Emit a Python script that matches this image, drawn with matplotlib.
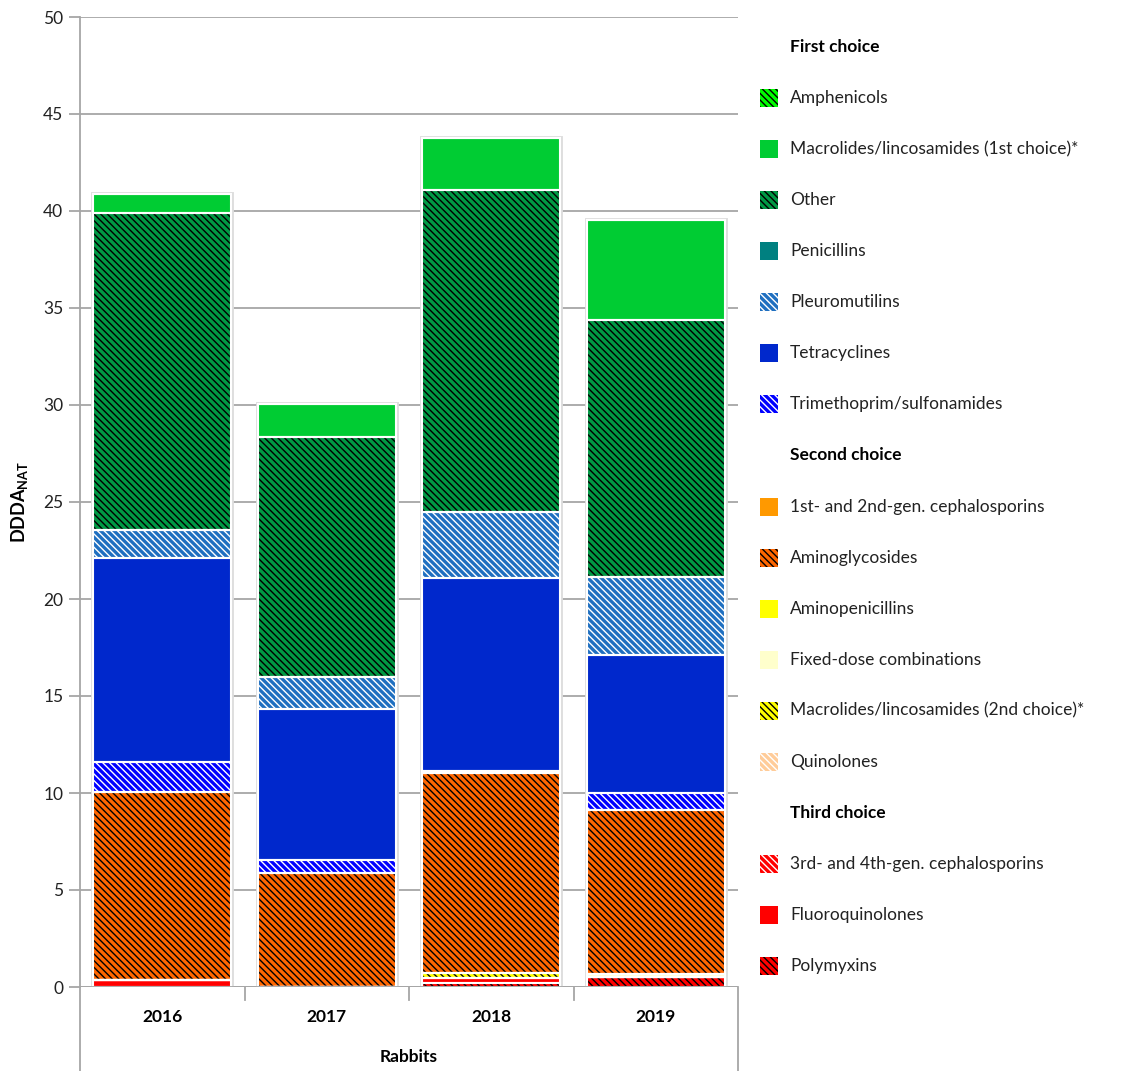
import matplotlib.pyplot as plt
from matplotlib.patches import Rectangle
from matplotlib.lines import Line2D

plt.rcParams['font.family'] = ['Lato', 'DejaVu Sans']
plt.rcParams['mathtext.fontset'] = 'custom'
plt.rcParams['mathtext.rm'] = 'Lato'
plt.rcParams['mathtext.bf'] = 'Lato:bold'
plt.rcParams['hatch.linewidth'] = 1.0

years = ["2016", "2017", "2018", "2019"]

# stacking order, bottom to top
polymyxins = [0, 0, 0.2, 0.5]
fluoroquinolones = [0.35, 0, 0.25, 0]
cephalosporins_34 = [0, 0, 0, 0]
quinolones = [0, 0, 0, 0]
macrolides_2nd = [0, 0, 0.25, 0]
fixed_dose = [0, 0, 0, 0.15]
aminopenicillins = [0, 0, 0, 0]
aminoglycosides = [9.7, 5.88, 10.33, 8.47]
cephalosporins_12 = [0, 0, 0, 0]
trimethoprim = [1.55, 0.67, 0.12, 0.88]
tetracyclines = [10.5, 7.78, 9.93, 7.11]
pleuromutilins = [1.45, 1.65, 3.4, 4.02]
penicillins = [0, 0, 0, 0]
other = [16.35, 12.37, 16.6, 13.25]
macrolides_1st = [1.0, 1.7, 2.68, 5.16]
amphenicols = [0, 0, 0, 0]

hatch = "\\" * 5

# (values, label, face colour, hatch, hatch colour)
series = [
    (polymyxins, "Polymyxins", "#FF0000", hatch, "#000000"),
    (fluoroquinolones, "Fluoroquinolones", "#FF0000", None, None),
    (cephalosporins_34, "3rd- and 4th-gen. cephalosporins", "#FF0000", hatch, "#FFFFFF"),
    (quinolones, "Quinolones", "#FFCC99", hatch, "#FFFFFF"),
    (macrolides_2nd, "Macrolides/lincosamides (2nd choice)*", "#FFFF00", hatch, "#000000"),
    (fixed_dose, "Fixed-dose combinations", "#FFFFCC", None, None),
    (aminopenicillins, "Aminopenicillins", "#FFFF00", None, None),
    (aminoglycosides, "Aminoglycosides", "#FF6600", hatch, "#000000"),
    (cephalosporins_12, "1st- and 2nd-gen. cephalosporins", "#FF9900", None, None),
    (trimethoprim, "Trimethoprim/sulfonamides", "#0000FF", hatch, "#FFFFFF"),
    (tetracyclines, "Tetracyclines", "#0028CC", None, None),
    (pleuromutilins, "Pleuromutilins", "#1F6FC0", hatch, "#FFFFFF"),
    (penicillins, "Penicillins", "#008080", None, None),
    (other, "Other", "#009944", hatch, "#000000"),
    (macrolides_1st, "Macrolides/lincosamides (1st choice)*", "#00CC33", None, None),
    (amphenicols, "Amphenicols", "#00FF00", hatch, "#000000"),
]

legend_groups = [
    ("First choice", ["Amphenicols", "Macrolides/lincosamides (1st choice)*", "Other",
                      "Penicillins", "Pleuromutilins", "Tetracyclines",
                      "Trimethoprim/sulfonamides"]),
    ("Second choice", ["1st- and 2nd-gen. cephalosporins", "Aminoglycosides",
                       "Aminopenicillins", "Fixed-dose combinations",
                       "Macrolides/lincosamides (2nd choice)*", "Quinolones"]),
    ("Third choice", ["3rd- and 4th-gen. cephalosporins", "Fluoroquinolones", "Polymyxins"]),
]

W, H = 1147, 1071
fig = plt.figure(figsize=(W / 100, H / 100), dpi=100)
ax = fig.add_axes([80 / W, 84 / H, 658 / W, 970 / H])

grid_color = "#A6A6A6"
x = list(range(len(years)))
width = 0.84

totals = [sum(s[0][i] for s in series) for i in x]
ax.bar(x, totals, width=width, color="none", edgecolor="#DDDDDD", linewidth=3.5, zorder=2)

bottoms = [0.0] * len(years)
for vals, label, face, htch, hcolor in series:
    if htch:
        ax.bar(x, vals, width=width, bottom=bottoms, color=face, edgecolor=hcolor,
               hatch=htch, linewidth=0, zorder=3)
    else:
        ax.bar(x, vals, width=width, bottom=bottoms, color=face, linewidth=0, zorder=3)
    ax.bar(x, vals, width=width, bottom=bottoms, fill=False, edgecolor="white",
           linewidth=1.5, zorder=4)
    bottoms = [b + v for b, v in zip(bottoms, vals)]

ax.set_xlim(-0.5, 3.5)
ax.set_ylim(0, 50)
ax.set_yticks(range(0, 51, 5))
ax.yaxis.grid(True, color=grid_color, linewidth=1.3)
ax.set_axisbelow(True)
for side in ["top", "right", "bottom"]:
    ax.spines[side].set_visible(False)
ax.spines["left"].set_color(grid_color)
ax.spines["left"].set_linewidth(1.3)
ax.tick_params(axis="y", length=8, width=1.3, color=grid_color, labelsize=12.5,
               labelcolor="#222222", pad=4)
ax.tick_params(axis="x", length=0, labelsize=12.5, pad=16)
ax.set_xticks(x)
ax.set_xticklabels(years, fontweight="bold")
ax.axhline(0, color=grid_color, linewidth=1.3, zorder=5)

# category separators and group box below the axis
for xb in [-0.5, 0.5, 1.5, 2.5, 3.5]:
    bottom_px = 1071 if xb in (-0.5, 3.5) else 1000
    ax.add_line(Line2D([xb, xb], [0, -(bottom_px - 987) / 19.4], color=grid_color,
                       linewidth=1.3, clip_on=False))

fig.text(409 / W, 1 - 1057 / H, "Rabbits", ha="center", va="center",
         fontsize=12.5, fontweight="bold")
fig.text(20 / W, 1 - 502 / H, r"$\mathbf{DDDA}_{\mathbf{NAT}}$", rotation=90,
         ha="center", va="center", fontsize=13)

# legend
styles = {s[1]: s[2:] for s in series}
row = 0
y0, step = 47, 51.06
for header, labels in legend_groups:
    fig.text(790 / W, 1 - (y0 + row * step) / H, header, fontsize=12.5,
             fontweight="bold", va="center")
    row += 1
    for lab in labels:
        face, htch, hcolor = styles[lab]
        yc = y0 + row * step
        fig.add_artist(Rectangle((760 / W, 1 - (yc + 9) / H), 18 / W, 18 / H,
                                 transform=fig.transFigure, facecolor=face,
                                 edgecolor=hcolor if htch else face,
                                 hatch=htch, linewidth=0))
        fig.text(790 / W, 1 - yc / H, lab, fontsize=12.5, va="center", color="#222222")
        row += 1

fig.savefig("out.png", dpi=100)
